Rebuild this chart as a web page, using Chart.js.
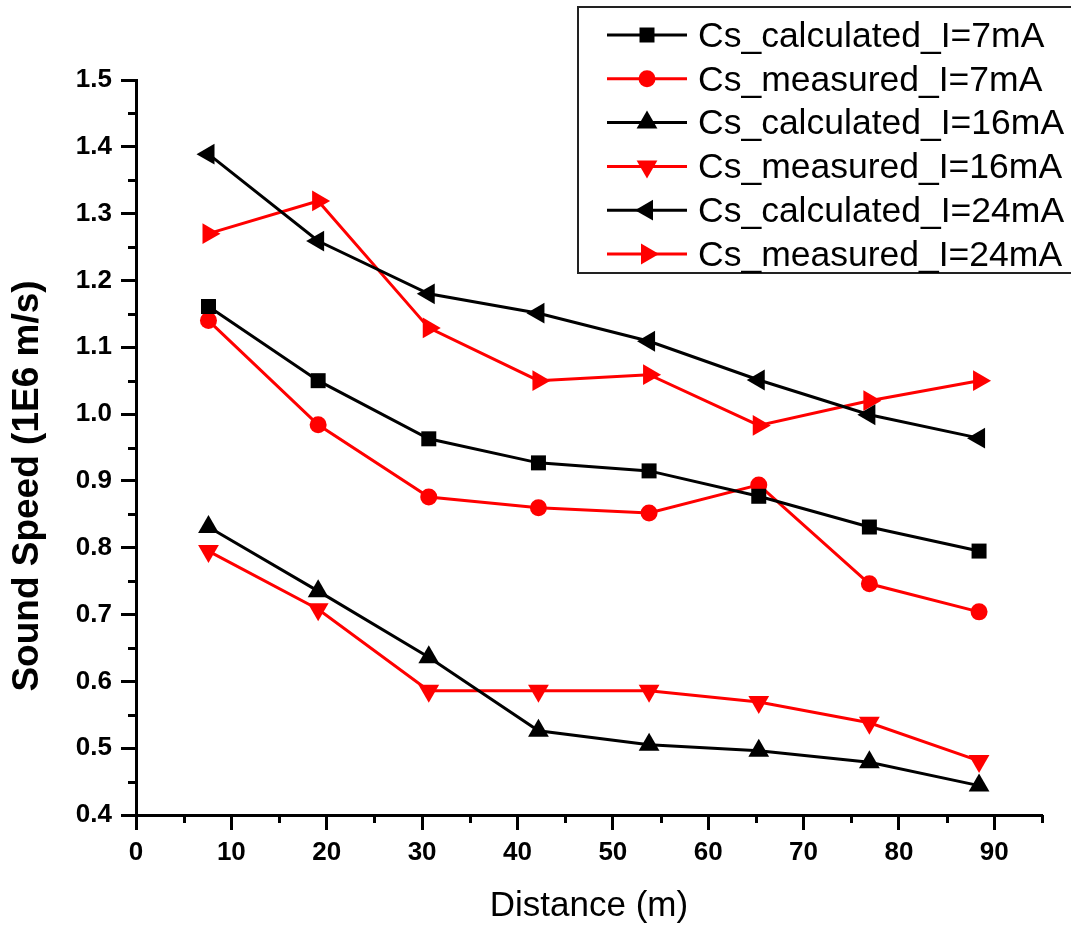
<!DOCTYPE html>
<html>
<head>
<meta charset="utf-8">
<script src="https://cdn.jsdelivr.net/npm/chart.js@4/dist/chart.umd.min.js"></script>
<style>
  html, body { margin: 0; padding: 0; background: #ffffff; }
  #wrap { width: 1071px; height: 928px; }
</style>
</head>
<body>
<div id="wrap"><canvas id="c" width="1071" height="928"></canvas></div>
<script>
// ---- data ----
const distance = [7.6, 19.1, 30.7, 42.2, 53.8, 65.3, 76.9, 88.4];
const calc7  = [1.161, 1.050, 0.963, 0.927, 0.915, 0.877, 0.831, 0.795];
const meas7  = [1.140, 0.984, 0.876, 0.860, 0.852, 0.894, 0.746, 0.704];
const calc16 = [0.831, 0.735, 0.636, 0.526, 0.505, 0.496, 0.479, 0.444];
const meas16 = [0.795, 0.708, 0.586, 0.586, 0.586, 0.569, 0.538, 0.481];
const calc24 = [1.389, 1.259, 1.180, 1.151, 1.109, 1.051, 0.999, 0.964];
const meas24 = [1.270, 1.319, 1.129, 1.050, 1.059, 0.983, 1.020, 1.050];
const seriesNames = ['Cs_calculated_I=7mA', 'Cs_measured_I=7mA', 'Cs_calculated_I=16mA',
                     'Cs_measured_I=16mA', 'Cs_calculated_I=24mA', 'Cs_measured_I=24mA'];
const xTitle = 'Distance (m)';
const yTitle = 'Sound Speed (1E6 m/s)';

const FONT = '"Liberation Sans", Arial, Helvetica, sans-serif';
const BLACK = '#000000', RED = '#ff0000';

function pts(ys) { return distance.map((x, i) => ({ x: x, y: ys[i] })); }
function ds(label, ys, color, style, radius, rotation) {
  return {
    label: label, data: pts(ys), borderColor: color, backgroundColor: color,
    borderWidth: 3, pointStyle: style, pointRadius: radius, pointHoverRadius: radius,
    pointRotation: rotation, pointBorderWidth: 0, pointBackgroundColor: color,
    pointBorderColor: color, tension: 0, fill: false
  };
}
const datasets = [
  ds(seriesNames[0], calc7,  BLACK, 'rect', 10.6, 0),
  ds(seriesNames[1], meas7,  RED,   'circle', 8.5, 0),
  ds(seriesNames[2], calc16, BLACK, 'triangle', 12, 0),
  ds(seriesNames[3], meas16, RED,   'triangle', 12, 180),
  ds(seriesNames[4], calc24, BLACK, 'triangle', 12, -90),
  ds(seriesNames[5], meas24, RED,   'triangle', 12, 90)
];

const extras = {
  id: 'extras',
  afterDraw(chart) {
    const ctx = chart.ctx;
    const xs = chart.scales.x, ys = chart.scales.y;
    const area = chart.chartArea;
    ctx.save();
    // minor ticks
    ctx.strokeStyle = BLACK; ctx.lineWidth = 3; ctx.lineCap = 'butt';
    ctx.beginPath();
    for (let v = 5; v <= 95; v += 10) {
      const px = Math.round(xs.getPixelForValue(v)) + 0.5;
      ctx.moveTo(px, area.bottom); ctx.lineTo(px, area.bottom + 8);
    }
    for (let k = 0; k < 11; k++) {
      const v = 0.45 + k * 0.1;
      const py = Math.round(ys.getPixelForValue(v)) + 0.5;
      ctx.moveTo(area.left, py); ctx.lineTo(area.left - 8, py);
    }
    ctx.stroke();

    // y title
    ctx.fillStyle = BLACK;
    ctx.font = 'bold 37px ' + FONT;
    ctx.textAlign = 'center'; ctx.textBaseline = 'middle';
    ctx.translate(28, 486);
    ctx.rotate(-Math.PI / 2);
    ctx.fillText(yTitle, 0, 0);
    ctx.restore();

    // legend
    ctx.save();
    const bx = 578, by = 7, bw = 520, bh = 266;
    ctx.fillStyle = '#ffffff';
    ctx.fillRect(bx, by, bw, bh);
    ctx.strokeStyle = '#222222'; ctx.lineWidth = 2;
    ctx.strokeRect(bx, by, bw, bh);
    chart.data.datasets.forEach((d, i) => {
      const cy = 35 + i * 43.8;
      ctx.strokeStyle = d.borderColor; ctx.lineWidth = 3;
      ctx.beginPath(); ctx.moveTo(607, cy); ctx.lineTo(687, cy); ctx.stroke();
      ctx.fillStyle = d.pointBackgroundColor;
      ctx.strokeStyle = d.pointBorderColor;
      ctx.lineWidth = 0.01;
      Chart.helpers.drawPoint(ctx, { pointStyle: d.pointStyle, radius: d.pointRadius,
        rotation: d.pointRotation, borderWidth: 0 }, 647, cy);
      ctx.fillStyle = BLACK;
      ctx.font = '35.5px ' + FONT;
      ctx.textAlign = 'left'; ctx.textBaseline = 'middle';
      ctx.fillText(d.label, 698, cy + 2);
    });
    ctx.restore();
  }
};

new Chart(document.getElementById('c'), {
  type: 'line',
  data: { datasets: datasets },
  plugins: [extras],
  options: {
    responsive: false,
    animation: false,
    events: [],
    layout: { padding: { top: 80, right: 29, left: 0, bottom: 0 } },
    plugins: { legend: { display: false }, tooltip: { enabled: false }, title: { display: false } },
    scales: {
      x: {
        type: 'linear', min: 0, max: 95,
        border: { display: true, width: 3, color: BLACK },
        grid: { display: true, drawOnChartArea: false, drawTicks: true, tickLength: 15, tickWidth: 3, tickColor: BLACK },
        ticks: { stepSize: 10, includeBounds: false, color: BLACK, padding: 7,
                 font: { family: FONT, size: 26, weight: 'bold' }, maxRotation: 0,
                 callback: v => String(Math.round(v)) },
        title: { display: true, text: xTitle, color: BLACK, padding: { top: 0, bottom: 1 },
                 font: { family: FONT, size: 35, weight: 'normal' } },
        afterFit: s => { s.height = 113; }
      },
      y: {
        type: 'linear', min: 0.4, max: 1.5,
        border: { display: true, width: 3, color: BLACK },
        grid: { display: true, drawOnChartArea: false, drawTicks: true, tickLength: 15, tickWidth: 3, tickColor: BLACK },
        ticks: { stepSize: 0.1, color: BLACK, padding: 9,
                 font: { family: FONT, size: 26, weight: 'bold' },
                 callback: v => Number(v).toFixed(1) },
        title: { display: false },
        afterFit: s => { s.width = 136; }
      }
    }
  }
});
</script>
</body>
</html>
